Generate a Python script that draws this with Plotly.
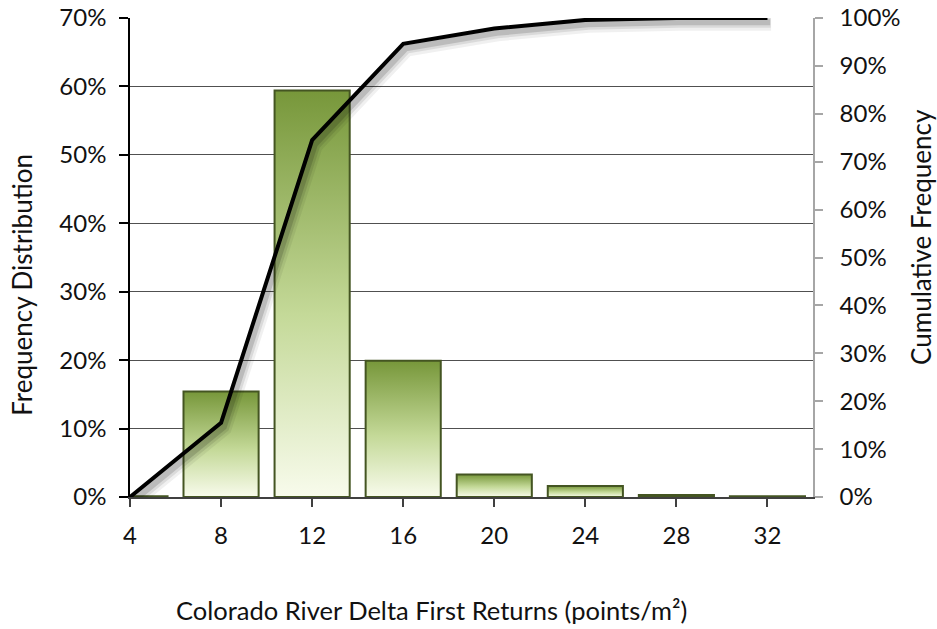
import plotly.graph_objects as go

# Point-density classes (points/m²) and their distributions
density_classes = [4, 8, 12, 16, 20, 24, 28, 32]
frequency_pct = [0.1, 15.4, 59.4, 19.9, 3.3, 1.6, 0.3, 0.1]
cumulative_pct = [0.0, 15.5, 74.5, 94.6, 97.8, 99.6, 100.0, 100.0]

left_ticks = [0, 10, 20, 30, 40, 50, 60, 70]
left_tick_text = [f"{v}%" for v in left_ticks]
right_ticks = list(range(0, 101, 10))
right_tick_text = [f"{v}%" for v in right_ticks]

bar_width = 3.3
font_family = "Lato, 'Open Sans', sans-serif"
text_color = "#111111"
label_size = 24
title_size = 26

fig = go.Figure()

# Bars drawn as filled shapes so each can carry its own vertical gradient
for cls, val in zip(density_classes, frequency_pct):
    x0, x1 = cls - bar_width / 2, cls + bar_width / 2
    fig.add_trace(go.Scatter(
        x=[x0, x0, x1, x1, x0],
        y=[0, val, val, 0, 0],
        mode="lines",
        fill="toself",
        fillgradient=dict(
            type="vertical",
            colorscale=[[0, "#f8fbec"], [0.45, "#c4d998"], [1, "#77973a"]],
        ),
        line=dict(color="#445522", width=2),
        hoverinfo="skip",
        showlegend=False,
        xaxis="x", yaxis="y",
    ))

# Soft shadow under the cumulative line
for w, a, dx, dy in [(14, 0.06, 0.16, -1.2), (10, 0.09, 0.14, -1.0), (6, 0.14, 0.12, -0.9)]:
    fig.add_trace(go.Scatter(
        x=[c + dx for c in density_classes],
        y=[v + dy for v in cumulative_pct],
        mode="lines",
        line=dict(color=f"rgba(0,0,0,{a})", width=w),
        hoverinfo="skip",
        showlegend=False,
        xaxis="x", yaxis="y2",
    ))

fig.add_trace(go.Scatter(
    x=density_classes,
    y=cumulative_pct,
    mode="lines",
    line=dict(color="#000000", width=4),
    name="Cumulative Frequency",
    showlegend=False,
    xaxis="x", yaxis="y2",
))

fig.update_layout(
    width=937, height=629,
    margin=dict(l=130, r=124, t=18, b=132, autoexpand=False),
    paper_bgcolor="white",
    plot_bgcolor="white",
    font=dict(family=font_family, size=label_size, color=text_color),
    xaxis=dict(
        range=[4, 34],
        automargin=False,
        tickmode="array",
        tickvals=density_classes,
        ticktext=[str(c) for c in density_classes],
        showgrid=False,
        zeroline=False,
        showline=True, linecolor="#404040", linewidth=1.5,
        ticks="outside", ticklen=8, tickcolor="#404040", tickwidth=1.5,
        ticklabelstandoff=8,
        tickfont=dict(size=label_size, color=text_color),
    ),
    yaxis=dict(
        range=[0, 70],
        automargin=False,
        tickmode="array",
        tickvals=left_ticks,
        ticktext=left_tick_text,
        showgrid=True, gridcolor="#505050", gridwidth=1,
        zeroline=False,
        showline=True, linecolor="#000000", linewidth=1.5,
        ticks="outside", ticklen=9, tickcolor="#000000", tickwidth=1.5,
        ticklabelstandoff=8,
        tickfont=dict(size=label_size, color=text_color),
    ),
    yaxis2=dict(
        range=[0, 100],
        automargin=False,
        overlaying="y",
        side="right",
        tickmode="array",
        tickvals=right_ticks,
        ticktext=right_tick_text,
        showgrid=False,
        zeroline=False,
        showline=True, linecolor="#a6a6a6", linewidth=1.5,
        ticks="outside", ticklen=8, tickcolor="#a6a6a6", tickwidth=1.5,
        ticklabelstandoff=12,
        tickfont=dict(size=label_size, color=text_color),
    ),
    annotations=[
        dict(text="Frequency Distribution", xref="paper", yref="paper",
             x=0, y=0.443, xanchor="center", yanchor="middle", xshift=-108,
             showarrow=False, textangle=-90,
             font=dict(size=title_size, color=text_color)),
        dict(text="Cumulative Frequency", xref="paper", yref="paper",
             x=1, y=0.543, xanchor="center", yanchor="middle", xshift=108,
             showarrow=False, textangle=-90,
             font=dict(size=title_size, color=text_color)),
        dict(text="Colorado River Delta First Returns (points/m²)",
             xref="paper", yref="paper", x=0.442, y=0,
             xanchor="center", yanchor="middle", yshift=-113,
             showarrow=False, font=dict(size=title_size - 0.5, color=text_color)),
    ],
)

fig.write_html("out.html")
